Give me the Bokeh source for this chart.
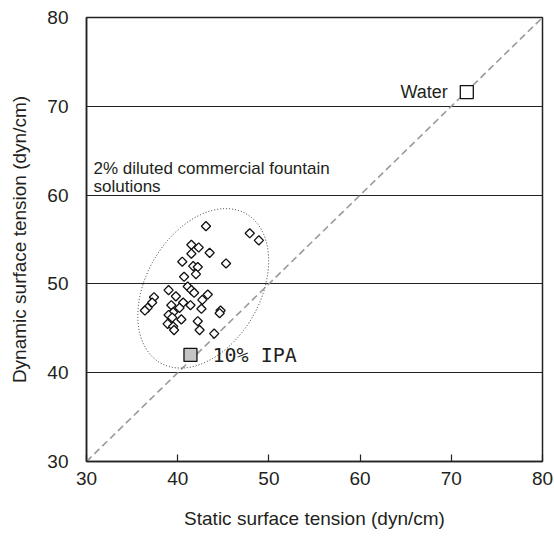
from bokeh.plotting import figure
from bokeh.models import Range1d, Label, FixedTicker
from bokeh.embed import file_html
from bokeh.resources import INLINE

# ---- data ----
static_tension = [43.1, 47.9, 48.9, 41.5, 42.3, 41.5, 43.5, 40.5, 45.3, 41.7, 42.2, 42.0, 40.7,
                  41.1, 39.0, 41.5, 41.8, 43.3, 37.4, 39.8, 42.7, 37.2, 40.6, 39.3, 41.4, 36.7,
                  40.2, 42.6, 36.4, 44.7, 39.5, 44.6, 39.0, 39.4, 40.4, 42.2, 38.9, 39.5, 39.6,
                  42.4, 44.0]
dynamic_tension = [56.5, 55.7, 54.9, 54.4, 54.1, 53.4, 53.5, 52.5, 52.3, 52.0, 51.9, 51.1, 50.8,
                   49.7, 49.3, 49.3, 49.0, 48.8, 48.5, 48.6, 48.2, 47.9, 47.9, 47.6, 47.6, 47.3,
                   47.3, 47.2, 47.0, 47.0, 46.8, 46.7, 46.5, 46.2, 46.0, 45.8, 45.5, 45.2, 44.8,
                   44.8, 44.4]
water_static = [71.7]
water_dynamic = [71.6]
ipa_static = [41.4]
ipa_dynamic = [42.0]
diag_line = [30, 80]
ellipse_x = [42.8]
ellipse_y = [49.5]
ticks = [30, 40, 50, 60, 70, 80]

FONT = "Liberation Sans"
TXT = "#231f20"

p = figure(width=554, height=537, x_range=Range1d(30, 80), y_range=Range1d(30, 80),
           output_backend="svg", toolbar_location=None,
           min_border_left=86, min_border_right=12, min_border_top=17, min_border_bottom=76)
p.background_fill_color = "white"
p.border_fill_color = "white"
p.outline_line_color = "#222222"
p.outline_line_width = 1.5

# grid
p.xgrid.visible = False
p.ygrid.ticker = FixedTicker(ticks=[40, 50, 60, 70])
p.ygrid.grid_line_color = "#222222"
p.ygrid.grid_line_width = 1.2

for ax in (p.xaxis[0], p.yaxis[0]):
    ax.ticker = FixedTicker(ticks=ticks)
    ax.axis_line_color = "#222222"
    ax.axis_line_width = 1.5
    ax.major_tick_line_color = "#222222"
    ax.major_tick_line_width = 1.2
    ax.minor_tick_line_color = None
    ax.major_label_text_font = FONT
    ax.major_label_text_font_size = "19px"
    ax.major_label_text_color = TXT
    ax.axis_label_text_font = FONT
    ax.axis_label_text_font_size = "19px"
    ax.axis_label_text_font_style = "normal"
    ax.axis_label_text_color = TXT

p.xaxis.major_tick_in = 7
p.xaxis.major_tick_out = 0
p.xaxis.major_label_standoff = 10
p.xaxis.axis_label = "Static surface tension (dyn/cm)"
p.xaxis.axis_label_standoff = 20

p.yaxis.major_tick_in = 0
p.yaxis.major_tick_out = 0
p.yaxis.major_label_standoff = 18
p.yaxis.axis_label = "Dynamic surface tension (dyn/cm)"
p.yaxis.axis_label_standoff = 14

# diagonal
p.line(diag_line, diag_line, line_color="#9a9a9a", line_width=1.6, line_dash="7 4")

# ellipse
p.ellipse(x=ellipse_x, y=ellipse_y, width=172, height=114, angle=60, angle_units="deg",
          width_units="screen", height_units="screen", fill_color=None,
          line_color="#333333", line_width=1, line_dash="1 2")

# scatter
p.scatter(static_tension, dynamic_tension, marker="square", size=6.5, angle=45, angle_units="deg",
          fill_color="white", line_color="#111111", line_width=1.3)
p.scatter(water_static, water_dynamic, marker="square", size=13,
          fill_color="white", line_color="#111111", line_width=1.3)
p.scatter(ipa_static, ipa_dynamic, marker="square", size=13,
          fill_color="#c4c4c4", line_color="#111111", line_width=1.3)

# labels
p.add_layout(Label(x=water_static[0], y=water_dynamic[0], x_offset=-19, text="Water",
                   text_align="right", text_baseline="middle", text_font=FONT,
                   text_font_size="18px", text_color=TXT))
p.add_layout(Label(x=30, y=64.1, x_offset=7, text="2% diluted commercial fountain\nsolutions",
                   text_align="left", text_baseline="top", text_font=FONT,
                   text_font_size="17px", text_color=TXT, text_line_height=0.95))
p.add_layout(Label(x=ipa_static[0], y=ipa_dynamic[0], x_offset=22, text="10% IPA",
                   text_align="left", text_baseline="middle", text_font="DejaVu Sans Mono",
                   text_font_size="20px", text_color=TXT))

open("out.html", "w").write(file_html(p, INLINE))
